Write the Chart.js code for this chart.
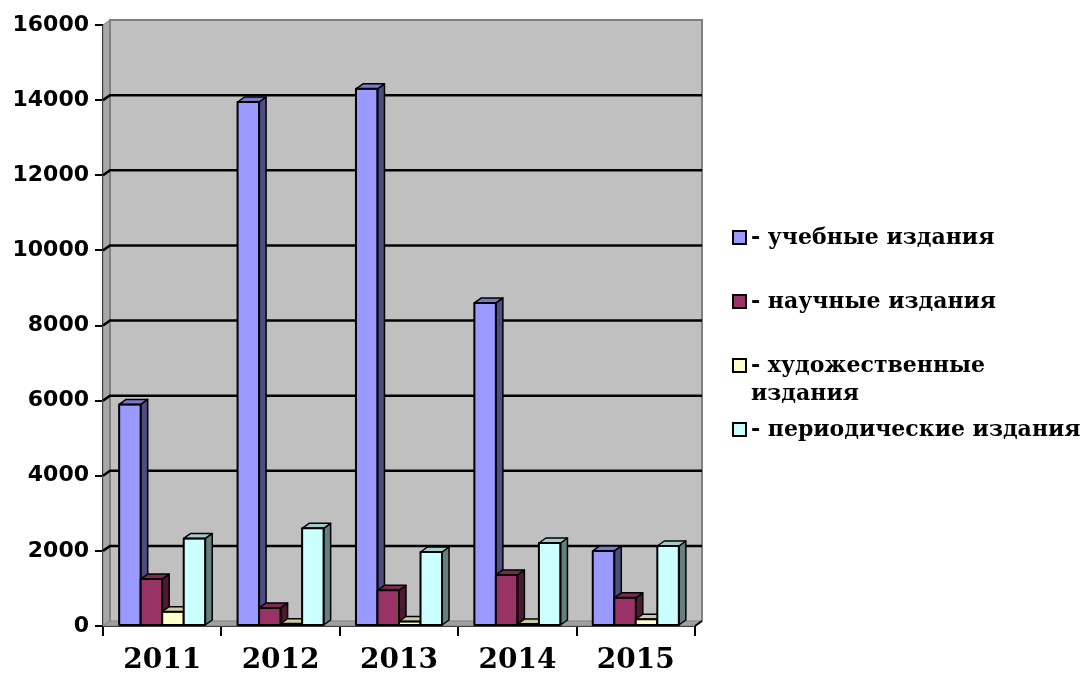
<!DOCTYPE html>
<html lang="ru">
<head>
<meta charset="UTF-8">
<title>Издания по годам</title>
<script src="https://cdn.jsdelivr.net/npm/chart.js"></script>
<style>
  html, body { margin: 0; padding: 0; background: #fff; }
  #wrap { width: 1090px; height: 673px; }
</style>
</head>
<body>
<div id="wrap"><canvas id="chart" width="1090" height="673"></canvas></div>
<script>
// --- data ---
const years = ['2011', '2012', '2013', '2014', '2015'];
const seriesNames = ['учебные издания', 'научные издания', 'художественные издания', 'периодические издания'];
const educational = [5900, 13950, 14300, 8600, 2000];
const scientific = [1250, 480, 950, 1360, 750];
const fiction = [380, 60, 120, 50, 180];
const periodicals = [2330, 2600, 1970, 2210, 2130];
const yTicks = [0, 2000, 4000, 6000, 8000, 10000, 12000, 14000, 16000];

// --- look ---
const frontColors = ['#9999ff', '#993366', '#ffffcc', '#ccffff'];
const topColors = ['#7a7acc', '#7a2952', '#cccca3', '#a3cccc'];
const sideColors = ['#4d4d80', '#4d1a33', '#808066', '#668080'];
const legendWrap = [false, false, true, false];
const DX = 7, DY = 5;   // 3d depth offset

function poly(ctx, pts, fill, stroke, lw) {
    ctx.beginPath();
    ctx.moveTo(pts[0][0], pts[0][1]);
    for (let i = 1; i < pts.length; i++) ctx.lineTo(pts[i][0], pts[i][1]);
    ctx.closePath();
    if (fill) { ctx.fillStyle = fill; ctx.fill(); }
    if (stroke) { ctx.strokeStyle = stroke; ctx.lineWidth = lw || 1; ctx.stroke(); }
}

// back wall, side wall, floor and gridlines
const wallPlugin = {
    id: 'wall',
    beforeDatasetsDraw(chart) {
        const { ctx, chartArea: a, scales: { y } } = chart;
        ctx.save();
        poly(ctx, [[a.left + DX, a.top - DY], [a.right + DX, a.top - DY], [a.right + DX, a.bottom - DY], [a.left + DX, a.bottom - DY]], '#c0c0c0');
        poly(ctx, [[a.left, a.top], [a.left + DX, a.top - DY], [a.left + DX, a.bottom - DY], [a.left, a.bottom]], '#a8a8a8', '#808080', 1);
        poly(ctx, [[a.left, a.bottom], [a.left + DX, a.bottom - DY], [a.right + DX, a.bottom - DY], [a.right, a.bottom]], '#a0a0a0', '#808080', 1);
        ctx.strokeStyle = '#808080';
        ctx.lineWidth = 2;
        ctx.beginPath();
        ctx.moveTo(a.left + DX, a.bottom - DY);
        ctx.lineTo(a.left + DX, a.top - DY);
        ctx.lineTo(a.right + DX, a.top - DY);
        ctx.lineTo(a.right + DX, a.bottom - DY);
        ctx.stroke();
        ctx.strokeStyle = '#000';
        ctx.lineWidth = 2.5;
        yTicks.forEach(v => {
            if (v === 0 || v === yTicks[yTicks.length - 1]) return;
            const py = y.getPixelForValue(v);
            ctx.beginPath();
            ctx.moveTo(a.left, py);
            ctx.lineTo(a.left + DX, py - DY);
            ctx.lineTo(a.right + DX, py - DY);
            ctx.stroke();
        });
        ctx.lineWidth = 2;
        ctx.beginPath();
        ctx.moveTo(a.right, a.bottom);
        ctx.lineTo(a.right + DX, a.bottom - DY);
        ctx.stroke();
        ctx.restore();
    }
};

// the bars themselves: front, side and top, series by series
const boxPlugin = {
    id: 'box3d',
    afterDatasetsDraw(chart) {
        const ctx = chart.ctx;
        ctx.save();
        ctx.lineJoin = 'round';
        chart.data.datasets.forEach((ds, i) => {
            chart.getDatasetMeta(i).data.forEach(bar => {
                const { x, y, base, width } = bar.getProps(['x', 'y', 'base', 'width'], true);
                const l = x - width / 2, r = x + width / 2;
                ctx.fillStyle = frontColors[i];
                ctx.fillRect(l, y, width, base - y);
                poly(ctx, [[r, y], [r + DX, y - DY], [r + DX, base - DY], [r, base]], sideColors[i], '#000', 1.5);
                poly(ctx, [[l, y], [l + DX, y - DY], [r + DX, y - DY], [r, y]], topColors[i], '#000', 1.5);
                ctx.strokeStyle = '#000';
                ctx.lineWidth = 2;
                ctx.strokeRect(l, y, width, base - y);
            });
        });
        ctx.restore();
    }
};

// legend on the right
const legendPlugin = {
    id: 'sideLegend',
    afterDraw(chart) {
        const ctx = chart.ctx;
        const rows = [238, 302, 366, 430];
        ctx.save();
        ctx.font = 'bold 22px "DejaVu Serif"';
        ctx.textBaseline = 'middle';
        seriesNames.forEach((name, i) => {
            const cy = rows[i];
            ctx.fillStyle = frontColors[i];
            ctx.fillRect(733, cy - 7, 13, 13);
            ctx.strokeStyle = '#000';
            ctx.lineWidth = 2;
            ctx.strokeRect(733, cy - 7, 13, 13);
            ctx.fillStyle = '#000';
            if (legendWrap[i]) {
                const cut = name.indexOf(' ');
                ctx.fillText('- ' + name.slice(0, cut), 751, cy);
                ctx.fillText(name.slice(cut + 1), 751, cy + 28);
            } else {
                ctx.fillText('- ' + name, 751, cy);
            }
        });
        ctx.restore();
    }
};

const seriesData = [educational, scientific, fiction, periodicals];

new Chart(document.getElementById('chart'), {
    type: 'bar',
    data: {
        labels: years,
        datasets: seriesData.map((d, i) => ({
            label: seriesNames[i],
            data: d,
            backgroundColor: 'rgba(0,0,0,0)',
            borderWidth: 0,
            categoryPercentage: 0.727,
            barPercentage: 1.0
        }))
    },
    options: {
        responsive: false,
        animation: false,
        layout: { padding: { top: 25, right: 395, left: 0, bottom: 0 } },
        plugins: {
            legend: { display: false },
            tooltip: { enabled: false }
        },
        scales: {
            x: {
                ticks: { color: '#000', font: { family: 'DejaVu Serif', size: 28, weight: 'bold' }, padding: 8 },
                grid: { offset: true, drawOnChartArea: false, drawTicks: true, tickLength: 10, color: '#000', lineWidth: 2 },
                border: { display: true, color: '#000', width: 2 },
                afterFit: s => { s.height = 47; }
            },
            y: {
                min: 0,
                max: 16000,
                afterBuildTicks: s => { s.ticks = yTicks.map(v => ({ value: v })); },
                ticks: {
                    color: '#000',
                    font: { family: 'DejaVu Sans', size: 22, weight: 'bold' },
                    padding: 6,
                    callback: v => String(v)
                },
                grid: { drawOnChartArea: false, drawTicks: true, tickLength: 8, color: '#000', lineWidth: 2 },
                border: { display: true, color: '#000', width: 2 },
                afterFit: s => { s.width = 103; }
            }
        }
    },
    plugins: [wallPlugin, boxPlugin, legendPlugin]
});
</script>
</body>
</html>
